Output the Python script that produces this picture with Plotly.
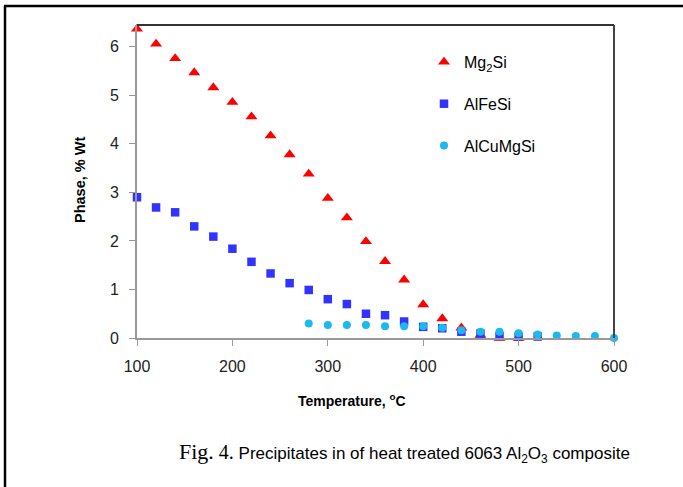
import plotly.graph_objects as go

temps_mg2si = [100, 120, 140, 160, 180, 200, 220, 240, 260, 280, 300, 320, 340, 360, 380, 400, 420, 440, 460, 480, 500]
mg2si = [6.37, 6.06, 5.76, 5.47, 5.16, 4.86, 4.56, 4.17, 3.78, 3.38, 2.88, 2.48, 1.99, 1.58, 1.2, 0.69, 0.4, 0.21, 0.06, 0.0, 0.0]

temps_alfesi = [100, 120, 140, 160, 180, 200, 220, 240, 260, 280, 300, 320, 340, 360, 380, 400, 420, 440, 460, 480, 500, 520]
alfesi = [2.9, 2.69, 2.59, 2.3, 2.09, 1.84, 1.57, 1.33, 1.13, 0.99, 0.8, 0.7, 0.5, 0.47, 0.34, 0.23, 0.2, 0.13, 0.09, 0.04, 0.03, 0.03]

temps_alcumgsi = [280, 300, 320, 340, 360, 380, 400, 420, 440, 460, 480, 500, 520, 540, 560, 580, 600]
alcumgsi = [0.3, 0.27, 0.27, 0.27, 0.24, 0.24, 0.24, 0.21, 0.16, 0.13, 0.13, 0.1, 0.07, 0.05, 0.04, 0.04, 0.0]

x_ticks = [100, 200, 300, 400, 500, 600]
y_ticks = [0, 1, 2, 3, 4, 5, 6]

W, H = 683, 487
L, R, T, B = 137, 614, 25, 338


def px(x):
    return (x - L) / (R - L)


def py(y):
    return (B - y) / (B - T)


fig = go.Figure()
fig.add_trace(go.Scatter(x=temps_mg2si, y=mg2si, mode="markers", name="Mg<sub>2</sub>Si",
                         legendgroup="a", cliponaxis=False,
                         marker=dict(symbol="triangle-up", size=10.5, color="#FF0000")))
fig.add_trace(go.Scatter(x=temps_alfesi, y=alfesi, mode="markers", name="AlFeSi",
                         legendgroup="b", cliponaxis=False,
                         marker=dict(symbol="square", size=8.5, color="#3333FF")))
fig.add_trace(go.Scatter(x=temps_alcumgsi, y=alcumgsi, mode="markers", name="AlCuMgSi",
                         legendgroup="c", cliponaxis=False,
                         marker=dict(symbol="circle", size=8, color="#1CB8F0")))

axis_common = dict(showgrid=False, zeroline=False, showline=True, linecolor="#999999", linewidth=2,
                   ticks="outside", ticklen=6, tickcolor="#999999", tickwidth=1,
                   tickfont=dict(family="Liberation Sans, Arial", size=16, color="#222222"))

fig.update_xaxes(range=[100, 600], tickvals=x_ticks, ticklabelstandoff=7, **axis_common)
fig.update_yaxes(range=[0, 6.45], tickvals=y_ticks, ticklabelstandoff=7, **axis_common)

shapes = [
    dict(type="line", xref="paper", yref="paper", x0=0, x1=1, y0=1, y1=1,
         line=dict(color="#333333", width=2)),
    dict(type="line", xref="paper", yref="paper", x0=1, x1=1, y0=0, y1=1,
         line=dict(color="#444444", width=2)),
    dict(type="line", xref="paper", yref="paper", x0=px(4), x1=px(684), y0=py(6), y1=py(6),
         line=dict(color="#000000", width=2.5)),
    dict(type="line", xref="paper", yref="paper", x0=px(5), x1=px(5), y0=py(6), y1=py(490),
         line=dict(color="#000000", width=2.5)),
]

annotations = [
    dict(text="<b>Phase, % Wt</b>", xref="paper", yref="paper", x=px(80), y=py(180),
         textangle=-90, showarrow=False, xanchor="center", yanchor="middle",
         font=dict(family="Liberation Sans, Arial", size=14.5, color="#000000")),
    dict(text="<b>Temperature, <sup>o</sup>C</b>", xref="paper", yref="paper", x=px(352), y=py(400),
         showarrow=False, xanchor="center", yanchor="middle",
         font=dict(family="Liberation Sans, Arial", size=14, color="#000000")),
    dict(text='<span style="font-family:Liberation Serif, Times New Roman; font-size:22px">Fig.</span>'
              '<span style="font-family:Liberation Serif, Times New Roman; font-size:20px"> 4.</span>'
              ' Precipitates in of heat treated 6063 Al<sub>2</sub>O<sub>3</sub> composite',
         xref="paper", yref="paper", x=px(404), y=py(452),
         showarrow=False, xanchor="center", yanchor="middle",
         font=dict(family="Liberation Sans Narrow, Arial Narrow, Liberation Sans", size=17, color="#000000")),
]

fig.update_layout(
    width=W, height=H,
    margin=dict(l=L, r=W - R, t=T, b=H - B, pad=0),
    paper_bgcolor="white", plot_bgcolor="white",
    showlegend=True,
    legend=dict(x=px(424), y=py(45), xanchor="left", yanchor="top",
                bgcolor="rgba(0,0,0,0)", tracegroupgap=18, itemwidth=30,
                font=dict(family="Liberation Sans, Arial", size=16, color="#000000")),
    shapes=shapes,
    annotations=annotations,
)

fig.write_html("out.html")
